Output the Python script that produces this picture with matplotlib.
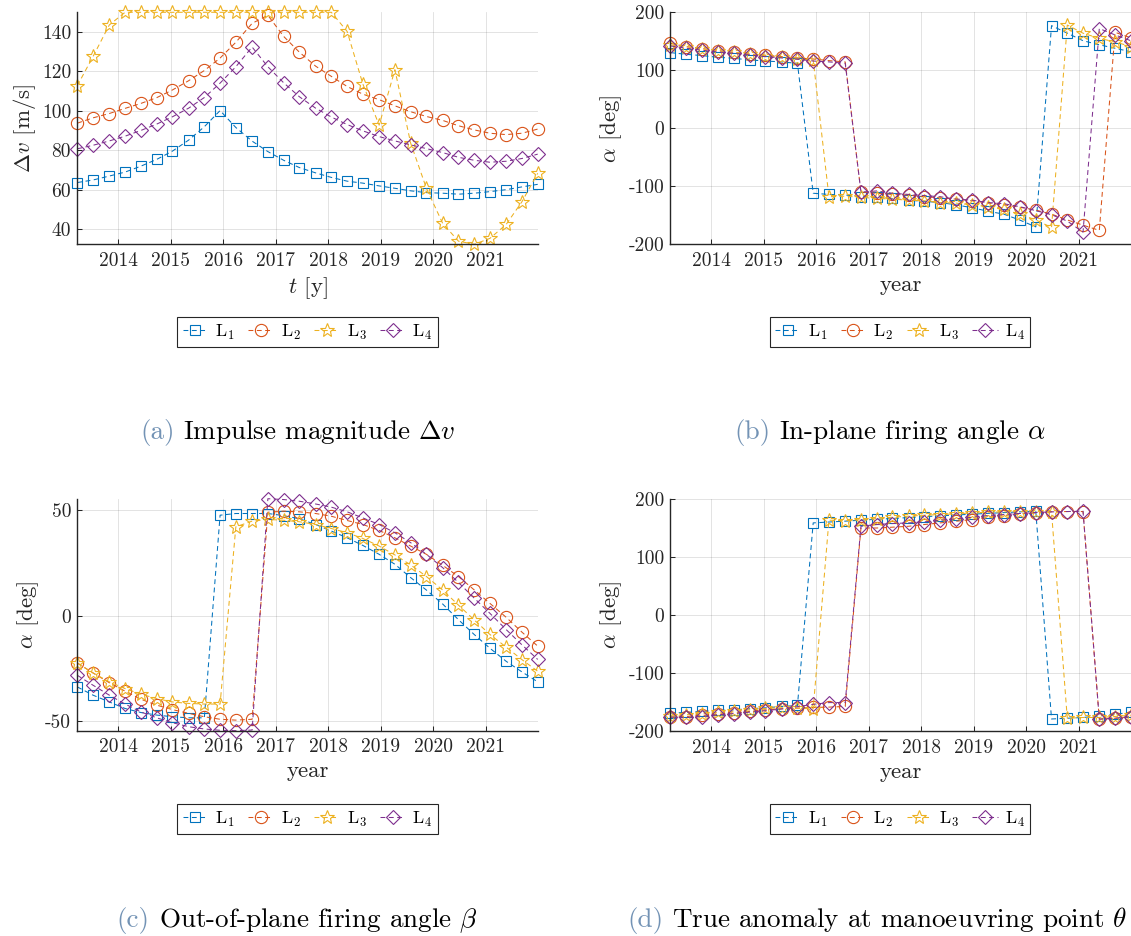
import matplotlib
matplotlib.use('Agg')
import matplotlib.pyplot as plt

plt.rcParams['font.family'] = 'serif'
plt.rcParams['font.serif'] = ['cmr10']
plt.rcParams['mathtext.fontset'] = 'cm'
plt.rcParams['axes.formatter.use_mathtext'] = True
plt.rcParams['lines.scale_dashes'] = False

# epochs of the manoeuvres (fractional years)
years = [2013.22, 2013.52, 2013.83, 2014.13, 2014.43, 2014.73, 2015.03, 2015.34, 2015.64, 2015.94,
         2016.24, 2016.55, 2016.85, 2017.15, 2017.45, 2017.76, 2018.06, 2018.36, 2018.66, 2018.97,
         2019.27, 2019.57, 2019.87, 2020.18, 2020.48, 2020.78, 2021.08, 2021.39, 2021.69, 2021.99]
year_ticks = [2014, 2015, 2016, 2017, 2018, 2019, 2020, 2021]

# (a) impulse magnitude [m/s]
dv_L1 = [63.7, 65.0, 67.0, 69.0, 72.0, 75.4, 79.6, 85.2, 92.0, 100.2, 91.6, 84.7, 79.4, 75.0, 71.3,
         68.6, 66.3, 64.4, 63.4, 62.0, 60.8, 59.5, 58.6, 58.3, 57.8, 58.3, 59.1, 60.1, 61.5, 62.8]
dv_L2 = [93.8, 96.5, 98.7, 101.3, 103.8, 106.7, 110.6, 115.3, 120.5, 126.8, 134.8, 144.4, 148.5, 137.8, 129.8,
         122.7, 117.5, 112.4, 108.5, 105.7, 102.6, 99.6, 97.2, 95.2, 92.5, 90.4, 88.7, 88.0, 88.7, 90.8]
dv_L3 = [112.8, 127.6, 143.6, 150.0, 150.0, 150.0, 150.0, 150.0, 150.0, 150.0, 150.0, 150.0, 150.0, 150.0, 150.0,
         150.0, 150.0, 140.3, 113.6, 92.8, 120.9, 83.7, 60.8, 43.0, 34.0, 32.4, 35.4, 42.5, 54.0, 68.4]
dv_L4 = [80.8, 82.6, 84.8, 87.2, 90.1, 93.3, 97.0, 101.4, 106.8, 114.1, 122.4, 132.4, 122.4, 114.3, 107.2,
         101.4, 96.9, 93.1, 89.9, 87.0, 84.8, 82.8, 80.9, 78.9, 76.5, 75.0, 74.0, 74.5, 75.9, 78.1]

# (b) in-plane firing angle [deg]
alpha_L1 = [130.5, 127.6, 125.3, 122.4, 120.7, 117.8, 116.1, 114.4, 112.0, -112, -114, -115, -118, -119, -121,
            -124, -126, -128, -132, -137, -143, -148, -158, -170, 177, 164, 151, 144, 138, 132]
alpha_L2 = [146.5, 140.8, 137.4, 134, 131, 128, 126, 123.6, 121.3, 119.5, 116.7, 114.4, -110, -112, -114,
            -115, -118, -120, -122, -125, -129, -132, -136, -141, -148, -158, -167, -176, 165.5, 156]
alpha_L3 = [143.7, 140.8, 136.8, 134, 131, 127.6, 125.3, 122.4, 119.5, 117.8, -118, -117, -119, -121, -122,
            -124, -125, -128, -129, -132, -135, -140, -148, -158, -171, 178, 164, 155, 149, 141]
alpha_L4 = [142, 138, 134.5, 131.6, 129.3, 126.4, 123.6, 121.3, 119, 116, 114.5, 112, -110, -108, -112,
            -114, -116, -118, -122, -124, -128, -130, -135, -142, -149, -160, -179, 172, 161, 151]

# (c) out-of-plane firing angle [deg]
beta_L1 = [-33.7, -37.6, -40.8, -43.9, -45.8, -47.0, -47.8, -48.3, -48.3, 47.5, 48.3, 48.3, 48.3, 47.3, 45.8,
           43.1, 40.0, 36.8, 33.2, 29.0, 24.3, 18.0, 12.1, 5.5, -1.9, -8.9, -15.4, -21.6, -26.6, -31.3]
beta_L2 = [-22.4, -27.1, -31.7, -35.7, -39.5, -42.3, -44.4, -46.2, -47.8, -49.0, -49.4, -49.0, 48.9, 49.4, 49.1,
           48.3, 47.0, 45.0, 43.1, 40.3, 36.8, 32.9, 29.0, 23.8, 18.5, 12.2, 5.8, -0.8, -7.8, -14.4]
beta_L3 = [-22.4, -27.1, -31.3, -34.5, -37.1, -39.2, -40.8, -41.5, -41.8, -41.8, 42.0, 44.7, 45.5, 45.1, 44.4,
           43.1, 41.2, 39.2, 36.5, 32.9, 28.7, 24.0, 18.5, 12.1, 5.0, -2.0, -8.9, -14.9, -20.8, -26.3]
beta_L4 = [-28.2, -32.9, -37.6, -41.8, -45.5, -48.3, -50.6, -52.5, -53.6, -54.2, -54.4, -54.1, 55.3, 54.9, 54.1,
           52.8, 51.3, 49.1, 46.2, 43.1, 39.2, 34.5, 29.0, 22.7, 15.7, 8.3, 1.1, -6.6, -13.8, -20.7]

# (d) true anomaly at manoeuvring point [deg]
theta_L1 = [-169, -168, -166, -164.6, -163.5, -161.7, -160, -157.7, -156, 158.8, 160.3, 161.8, 163.5, 165, 166.4,
            168, 169.5, 171, 172.4, 173.8, 175.2, 176.5, 177.8, 179.2, -179.3, -178, -176.7, -174, -171, -168]
theta_L2 = [-176, -175, -173, -171, -169, -166, -163.5, -161.7, -160.6, -159.4, -158.8, -157.7, 150, 150, 151.4,
            153, 156, 158.8, 161.7, 164.6, 168.6, 171.5, 174.4, 176, 178, 178.4, 178.4, -179.6, -178, -176]
theta_L3 = [-174, -172, -170, -168, -165.8, -163.5, -161, -160, -160.5, -162, 163.5, 162.5, 164.6, 166.3, 168.6,
            170.4, 172, 173.2, 174.4, 176, 177.3, 177.8, 178.4, 178.4, 177.8, -178, -176.7, -176.7, -175, -172.7]
theta_L4 = [-176, -176.7, -175, -172, -170, -167.5, -165, -162, -158, -154, -151, -151, 153, 156, 157.7,
            158.8, 160.6, 163.5, 165.8, 168.6, 171.5, 173.2, 175, 176.7, 177.8, 178.4, 179, -179.5, -178, -175]

names = [r'$\mathrm{L}_1$', r'$\mathrm{L}_2$', r'$\mathrm{L}_3$', r'$\mathrm{L}_4$']
colors = ['#0072BD', '#D95319', '#EDB120', '#7E2F8E']
markers = ['s', 'o', '*', 'D']
msizes = [7.4, 8.8, 10.2, 7.2]

W, H = 1131, 936
fig = plt.figure(figsize=(W / 100, H / 100), dpi=100)
dark = '#262626'


def makePanel(left, top, series, yticks, ylim, ylabel, xlabel, leg_center):
    ax = fig.add_axes([left / W, 1 - (top + 232) / H, 460.4 / W, 232 / H])
    for i in range(4):
        ax.plot(years, series[i], color=colors[i], lw=0.75, dashes=(3.5, 2.5),
                marker=markers[i], ms=msizes[i], mfc='none', mec=colors[i], mew=0.8,
                label=names[i], clip_on=False)
    ax.set_xlim(years[0], years[-1])
    if ylim is None:
        allv = series[0] + series[1] + series[2] + series[3]
        ylim = (min(allv), max(allv))
    ax.set_ylim(ylim)
    ax.set_xticks(year_ticks)
    ax.set_xticklabels([str(y) for y in year_ticks])
    ax.set_yticks(yticks)
    ax.set_yticklabels([str(v) for v in yticks])
    ax.tick_params(direction='in', length=3.3, width=0.75, colors=dark, labelsize=14)
    ax.tick_params(axis='x', pad=5.5)
    ax.tick_params(axis='y', pad=4.5)
    ax.grid(True, color=dark, alpha=0.15, lw=0.6)
    ax.set_axisbelow(True)
    for s in ['top', 'right']:
        ax.spines[s].set_visible(False)
    for s in ['left', 'bottom']:
        ax.spines[s].set_color(dark)
        ax.spines[s].set_linewidth(1.0)
    ax.set_ylabel(ylabel, fontsize=16.5, color=dark, labelpad=3)
    ax.set_xlabel(xlabel, fontsize=16.5, color=dark, labelpad=4)
    leg = ax.legend(loc='center', bbox_to_anchor=(leg_center[0] / W, 1 - leg_center[1] / H),
                    bbox_transform=fig.transFigure, ncol=4, fontsize=13, frameon=True,
                    fancybox=False, edgecolor=dark, framealpha=1, handlelength=1.4,
                    handletextpad=0.4, columnspacing=0.75, borderpad=0.3, borderaxespad=0)
    leg.get_frame().set_linewidth(0.8)
    return ax


makePanel(77.3, 12.3, [dv_L1, dv_L2, dv_L3, dv_L4], [40, 60, 80, 100, 120, 140], None,
          r'$\Delta v$ [m/s]', r'$t$ [y]', (307.5, 332))
makePanel(670.4, 12.3, [alpha_L1, alpha_L2, alpha_L3, alpha_L4], [-200, -100, 0, 100, 200], (-200, 200),
          r'$\alpha$ [deg]', 'year', (900, 332))
makePanel(77.3, 498.7, [beta_L1, beta_L2, beta_L3, beta_L4], [-50, 0, 50], None,
          r'$\alpha$ [deg]', 'year', (307.5, 819))
makePanel(670.4, 499.0, [theta_L1, theta_L2, theta_L3, theta_L4], [-200, -100, 0, 100, 200], (-200, 200),
          r'$\alpha$ [deg]', 'year', (900, 819))

# sub-captions, tag in blue-grey and text in black, centred under each panel
captions = [(298, 439, '(a)', r'Impulse magnitude $\Delta v$'),
            (890, 439, '(b)', r'In-plane firing angle $\alpha$'),
            (297, 927, '(c)', r'Out-of-plane firing angle $\beta$'),
            (877, 927, '(d)', r'True anomaly at manoeuvring point $\theta$')]
texts = []
for cx, cy, tag, txt in captions:
    t1 = fig.text(0, 1 - cy / H, tag, color='#7393b5', fontsize=19.5, va='baseline')
    t2 = fig.text(0, 1 - cy / H, txt, color='black', fontsize=19.5, va='baseline')
    texts.append((cx, t1, t2))
fig.canvas.draw()
gap = 9
for cx, t1, t2 in texts:
    w1 = t1.get_window_extent().width
    w2 = t2.get_window_extent().width
    x0 = cx - (w1 + gap + w2) / 2
    t1.set_x(x0 / W)
    t2.set_x((x0 + w1 + gap) / W)

fig.savefig('out.png', dpi=100)
